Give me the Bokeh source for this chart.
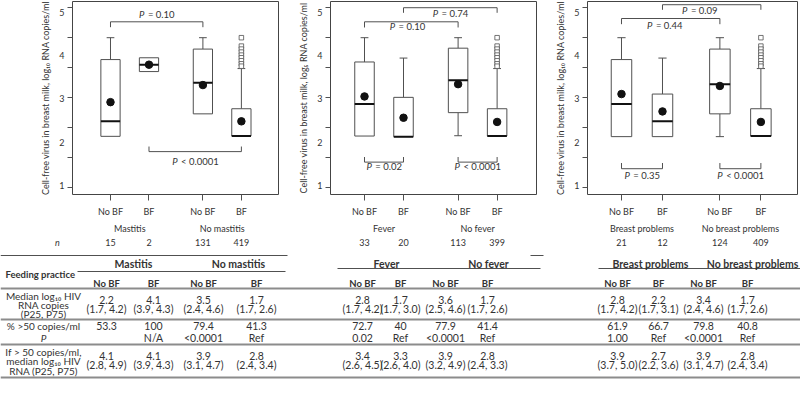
from bokeh.plotting import figure
from bokeh.models import Range1d, LinearAxis, FixedTicker
from bokeh.layouts import column, row
from bokeh.embed import file_html
from bokeh.resources import INLINE
from bokeh.core.properties import value

FONT = "Lato"
TXT = "#333333"
LINE = "#505050"
SEP = "#8c8c8c"

# ---------------- data ----------------
positions = [1, 2, 3.4, 4.4]
feeding = ["No BF", "BF", "No BF", "BF"]
group_names = [["Mastitis", "No mastitis"], ["Fever", "No fever"],
               ["Breast problems", "No breast problems"]]
n_counts = [[15, 2, 131, 419], [33, 20, 113, 399], [21, 12, 124, 409]]

q1 = [[1.71, 3.87, 2.46, 1.72], [1.72, 1.70, 2.50, 1.72], [1.70, 1.70, 2.46, 1.72]]
medians = [[2.21, 4.10, 3.50, 1.72], [2.79, 1.70, 3.58, 1.72], [2.79, 2.21, 3.45, 1.72]]
q3 = [[4.27, 4.33, 4.62, 2.63], [4.19, 3.01, 4.65, 2.63], [4.27, 3.12, 4.62, 2.63]]
whisk_lo = [[1.71, 3.87, 2.46, 1.72], [1.72, 1.70, 1.73, 1.72], [1.70, 1.70, 1.70, 1.72]]
whisk_hi = [[5.00, 4.33, 5.00, 3.97], [5.00, 4.32, 5.00, 3.97], [5.00, 4.32, 5.00, 3.97]]
means = [[2.85, 4.10, 3.42, 2.21], [3.04, 2.33, 3.45, 2.19], [3.12, 2.54, 3.39, 2.19]]
outliers = [[5.00, 4.72, 4.62, 4.52, 4.42, 4.33, 4.23, 4.13, 4.05],
            [5.00, 4.72, 4.62, 4.52, 4.42, 4.33, 4.23, 4.13, 4.05],
            [5.00, 4.72, 4.62, 4.52, 4.42, 4.33, 4.23, 4.13, 4.05]]

p_pairs = [[(0, 2), (1, 3)], [(1, 3), (0, 2), (0, 1), (2, 3)], [(1, 3), (0, 2), (0, 1), (2, 3)]]
p_texts = [["= 0.10", "< 0.0001"], ["= 0.74", "= 0.10", "= 0.02", "< 0.0001"],
           ["= 0.09", "= 0.44", "= 0.35", "< 0.0001"]]

y_titles = ["Cell-free virus in breast milk, log\u2081\u2080 RNA copies/ml",
            "Cell-free virus in breast milk, log\u2085 RNA copies/ml",
            "Cell-free virus in breast milk, log\u2081\u2080 RNA copies/ml"]
value_ticks = [0, 1, 2, 3, 4, 5, 6]
label_ticks = [1, 2, 3, 4, 5]

# table
row_labels_med = ["Median log\u2081\u2080 HIV", "RNA copies", "(P25, P75)"]
row_label_pct = "% >50 copies/ml"
row_labels_det = ["If > 50 copies/ml,", "median log\u2081\u2080 HIV", "RNA (P25, P75)"]
tab_median = [["2.2", "4.1", "3.5", "1.7"], ["2.8", "1.7", "3.6", "1.7"], ["2.8", "2.2", "3.4", "1.7"]]
tab_median_iqr = [["(1.7, 4.2)", "(3.9, 4.3)", "(2.4, 4.6)", "(1.7, 2.6)"],
                  ["(1.7, 4.2)", "(1.7, 3.0)", "(2.5, 4.6)", "(1.7, 2.6)"],
                  ["(1.7, 4.2)", "(1.7, 3.1)", "(2.4, 4.6)", "(1.7, 2.6)"]]
tab_pct = [["53.3", "100", "79.4", "41.3"], ["72.7", "40", "77.9", "41.4"], ["61.9", "66.7", "79.8", "40.8"]]
tab_p = [["", "N/A", "<0.0001", "Ref"], ["0.02", "Ref", "<0.0001", "Ref"], ["1.00", "Ref", "<0.0001", "Ref"]]
tab_det_med = [["4.1", "4.1", "3.9", "2.8"], ["3.4", "3.3", "3.9", "2.8"], ["3.9", "2.7", "3.9", "2.8"]]
tab_det_iqr = [["(2.8, 4.9)", "(3.9, 4.3)", "(3.1, 4.7)", "(2.4, 3.4)"],
               ["(2.6, 4.5)", "(2.6, 4.0)", "(3.2, 4.9)", "(2.4, 3.3)"],
               ["(3.7, 5.0)", "(2.2, 3.6)", "(3.1, 4.7)", "(2.4, 3.4)"]]

# ---------------- layout settings ----------------
x_ranges = [(0.013, 5.364), (0.128, 5.41), (0.171, 5.293)]
fig_w = [290, 255, 255]
border_l = [72, 40, 42]
border_r = [12, 9, 3]
PANEL_H = 236
bracket_y = [[5.53, 1.20], [6.00, 5.53, 0.85, 0.85], [6.10, 5.64, 0.63, 0.63]]
bracket_leg = [[-0.18, 0.17], [-0.17, -0.19, 0.17, 0.17], [-0.17, -0.19, 0.19, 0.19]]
bracket_text_y = [[5.78, 0.88], [5.80, 5.36, 0.71, 0.71], [5.90, 5.42, 0.42, 0.42]]
bracket_text_dx = [[0, 0], [0, -4, 0, 0], [-12, -6, 0, 0]]
FS = "9.5px"


def est_w(s, fs=9.5):
    w = 0.0
    for c in s:
        if c in " .,":
            w += 0.25
        elif c in "()":
            w += 0.3
        else:
            w += 0.57
    return w * fs


def make_panel(k):
    p = figure(width=fig_w[k], height=PANEL_H, x_range=Range1d(*x_ranges[k]),
               y_range=Range1d(-0.23, 6.207), output_backend="svg", toolbar_location=None,
               x_axis_location=None, y_axis_location=None,
               min_border_left=border_l[k], min_border_right=border_r[k],
               min_border_top=1, min_border_bottom=PANEL_H - 197)
    p.outline_line_color = "#444444"
    p.outline_line_width = 1
    p.grid.visible = False
    p.extra_y_ranges = {"lab": Range1d(0.795, 5.25)}

    yt = LinearAxis(ticker=FixedTicker(ticks=value_ticks), major_tick_in=0, major_tick_out=5,
                    major_label_overrides={t: "" for t in value_ticks}, major_label_standoff=0,
                    axis_line_color=None, minor_tick_line_color=None,
                    major_tick_line_color=LINE)
    p.add_layout(yt, "left")
    yl = LinearAxis(y_range_name="lab", ticker=FixedTicker(ticks=label_ticks),
                    major_tick_line_color=None, minor_tick_line_color=None, axis_line_color=None,
                    major_tick_in=0, major_tick_out=0, major_label_standoff=3,
                    major_label_text_font=FONT, major_label_text_font_size="9px",
                    major_label_text_color=TXT, axis_label=y_titles[k], axis_label_standoff=5,
                    axis_label_text_font=FONT, axis_label_text_font_size="9px",
                    axis_label_text_font_style="normal", axis_label_text_color=TXT)
    p.add_layout(yl, "left")

    xa = LinearAxis(ticker=FixedTicker(ticks=positions),
                    major_label_overrides={pos: lab for pos, lab in zip(positions, feeding)},
                    major_tick_out=6, major_tick_in=0, axis_line_color=None,
                    minor_tick_line_color=None, major_tick_line_color=LINE,
                    major_label_standoff=5, major_label_text_font=FONT,
                    major_label_text_font_size="9px", major_label_text_color=TXT)
    p.add_layout(xa, "below")
    gcent = [(positions[0] + positions[1]) / 2, (positions[2] + positions[3]) / 2]
    ga = LinearAxis(ticker=FixedTicker(ticks=gcent),
                    major_label_overrides={c: g for c, g in zip(gcent, group_names[k])},
                    major_tick_out=0, major_tick_in=0, axis_line_color=None,
                    minor_tick_line_color=None, major_tick_line_color=None,
                    major_label_standoff=3, major_label_text_font=FONT,
                    major_label_text_font_size="9px", major_label_text_color=TXT)
    p.add_layout(ga, "below")

    bw = 0.5
    cw = 0.2
    up = [i for i in range(4) if whisk_hi[k][i] > q3[k][i]]
    lo = [i for i in range(4) if whisk_lo[k][i] < q1[k][i]]
    p.segment(x0=[positions[i] for i in up], y0=[q3[k][i] for i in up],
              x1=[positions[i] for i in up], y1=[whisk_hi[k][i] for i in up],
              line_color=LINE, line_width=1)
    p.segment(x0=[positions[i] - cw / 2 for i in up], y0=[whisk_hi[k][i] for i in up],
              x1=[positions[i] + cw / 2 for i in up], y1=[whisk_hi[k][i] for i in up],
              line_color=LINE, line_width=1)
    p.segment(x0=[positions[i] for i in lo], y0=[q1[k][i] for i in lo],
              x1=[positions[i] for i in lo], y1=[whisk_lo[k][i] for i in lo],
              line_color=LINE, line_width=1)
    p.segment(x0=[positions[i] - cw / 2 for i in lo], y0=[whisk_lo[k][i] for i in lo],
              x1=[positions[i] + cw / 2 for i in lo], y1=[whisk_lo[k][i] for i in lo],
              line_color=LINE, line_width=1)
    p.vbar(x=positions, width=bw, top=q3[k], bottom=q1[k], fill_color="white",
           line_color=LINE, line_width=1)
    p.segment(x0=[x - bw / 2 for x in positions], y0=medians[k],
              x1=[x + bw / 2 for x in positions], y1=medians[k],
              line_color="#111111", line_width=2)
    p.scatter(x=positions, y=means[k], size=7.5, marker="circle", fill_color="#111111",
              line_color="#111111")
    p.scatter(x=[positions[3]] * len(outliers[k]), y=outliers[k], marker="square", size=4.5,
              fill_color="white", line_color=LINE, line_width=0.8)

    xs, ys = [], []
    for (i, j), yb, lg in zip(p_pairs[k], bracket_y[k], bracket_leg[k]):
        xs.append([positions[i], positions[i], positions[j], positions[j]])
        ys.append([yb + lg, yb, yb, yb + lg])
    p.multi_line(xs=xs, ys=ys, line_color=LINE, line_width=1)
    for (i, j), ty, txt, dx in zip(p_pairs[k], bracket_text_y[k], p_texts[k], bracket_text_dx[k]):
        xm = (positions[i] + positions[j]) / 2
        wp = est_w("P") + 1
        wr = est_w(txt) + 2.4
        tot = wp + wr
        p.text(x=[xm], y=[ty], text=["P"], x_offset=dx - tot / 2, text_align="left",
               text_baseline="middle", text_font=value(FONT), text_font_size=FS,
               text_font_style="italic", text_color=TXT)
        p.text(x=[xm], y=[ty], text=[txt], x_offset=dx - tot / 2 + wp + 2.4, text_align="left",
               text_baseline="middle", text_font=value(FONT), text_font_size=FS, text_color=TXT)
    return p


panels = [make_panel(k) for k in range(3)]


def panel_page_x(k, pos):
    left = sum(fig_w[:k]) + border_l[k]
    fw = fig_w[k] - border_l[k] - border_r[k]
    x0, x1 = x_ranges[k]
    return left + (pos - x0) / (x1 - x0) * fw


# ---------------- table (page pixel coordinates) ----------------
TAB_TOP = PANEL_H
t = figure(width=800, height=390 - TAB_TOP, x_range=Range1d(0, 800),
           y_range=Range1d(390, TAB_TOP), output_backend="svg", toolbar_location=None,
           x_axis_location=None, y_axis_location=None, min_border_left=0,
           min_border_right=0, min_border_top=0, min_border_bottom=0)
t.outline_line_color = None
t.grid.visible = False

col_x = [[106, 153, 203, 256], [362, 400, 445, 487], [617, 658, 703, 747]]
grp_x = [[133, 238], [386, 488], [650, 752]]
label_x = 43
Y_N = 242
Y_GRP, Y_HDR, Y_M1, Y_M2, Y_PCT, Y_P, Y_D1, Y_D2 = 263, 283, 299.5, 308.5, 325, 337, 355, 364.5
VS = "10.5px"


def ttext(xs, ys, texts, size=VS, style="normal", align="center"):
    t.text(x=xs, y=ys, text=texts, text_align=align, text_baseline="middle",
           text_font=value(FONT), text_font_size=size, text_font_style=style, text_color=TXT)


# n row
ttext([57], [Y_N], ["n"], size="9px", style="italic")
for k in range(3):
    ttext([panel_page_x(k, pos) for pos in positions], [Y_N] * 4,
          [str(n) for n in n_counts[k]], size="9px")

# rules
t.segment(x0=[0, 530], y0=[255, 255], x1=[287, 543], y1=[255, 255], line_color=LINE, line_width=1)
t.segment(x0=[77, 337, 598], y0=[271, 268, 268], x1=[285, 540, 800], y1=[271, 268, 268],
          line_color=LINE, line_width=1)
t.segment(x0=[0, 0, 0, 0], y0=[288, 319, 344, 377], x1=[800] * 4, y1=[288, 319, 344, 377],
          line_color=SEP, line_width=1.8)

ttext([5], [274], ["Feeding practice"], size="9.5px", style="bold", align="left")
ttext([label_x] * 3, [295.5, 304, 313], row_labels_med, size="10px")
ttext([label_x], [Y_PCT], [row_label_pct], size="10px")
ttext([label_x], [Y_P], ["P"], size="10px", style="italic")
ttext([label_x] * 3, [351, 360.5, 370], row_labels_det, size="10px")

for k in range(3):
    ttext(grp_x[k], [Y_GRP] * 2, group_names[k], size="10.5px", style="bold")
    ttext(col_x[k], [Y_HDR] * 4, feeding, size="9.5px", style="bold")
    ttext(col_x[k], [Y_M1] * 4, tab_median[k])
    ttext(col_x[k], [Y_M2] * 4, tab_median_iqr[k])
    ttext(col_x[k], [Y_PCT] * 4, tab_pct[k])
    ttext(col_x[k], [Y_P] * 4, tab_p[k])
    ttext(col_x[k], [Y_D1] * 4, tab_det_med[k])
    ttext(col_x[k], [Y_D2] * 4, tab_det_iqr[k])

layout = column(row(*panels), t)
open("out.html", "w").write(file_html(layout, INLINE))
